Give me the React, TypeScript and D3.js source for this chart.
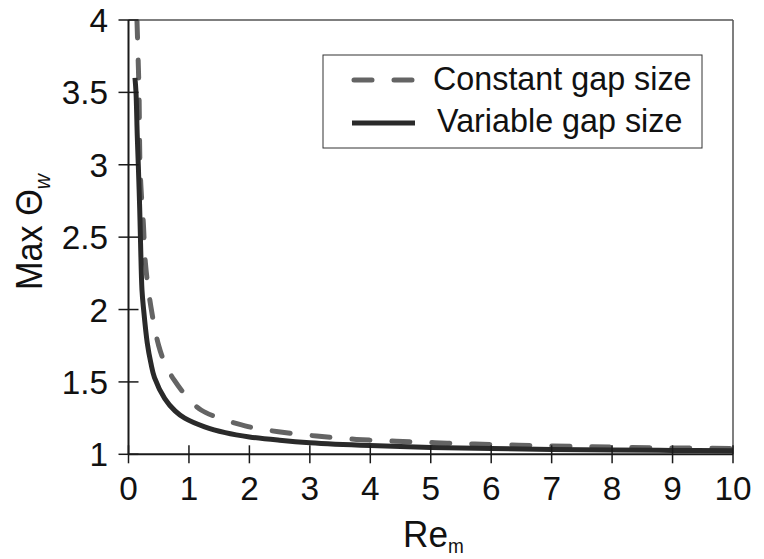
import React from "react";
import * as d3 from "d3";

const xTicks = [0, 1, 2, 3, 4, 5, 6, 7, 8, 9, 10];
const yTicks = [1, 1.5, 2, 2.5, 3, 3.5, 4];
const yTickLabels = ["1", "1.5", "2", "2.5", "3", "3.5", "4"];

const seriesNames = ["Constant gap size", "Variable gap size"];

const constX = [0.14, 0.158, 0.174, 0.19, 0.215, 0.245, 0.28, 0.37, 0.5, 0.62, 0.76, 0.9, 1.05, 1.2, 1.5, 1.81, 2.1, 2.48, 3.11, 3.77, 4.43, 5.07, 5.73, 7, 8, 9, 10];
const constY = [4.0, 3.75, 3.5, 3.0, 2.78, 2.6, 2.32, 2.02, 1.75, 1.61, 1.51, 1.43, 1.36, 1.306, 1.25, 1.21, 1.18, 1.156, 1.126, 1.103, 1.09, 1.08, 1.071, 1.058, 1.05, 1.044, 1.04];

const varX = [0.107, 0.124, 0.145, 0.162, 0.185, 0.2, 0.223, 0.25, 0.31, 0.37, 0.43, 0.6, 0.77, 0.93, 1.26, 1.6, 2, 2.5, 3, 4, 5, 6, 7, 8, 9, 10];
const varY = [3.6, 3.5, 3.2, 3.0, 2.7, 2.45, 2.135, 2.0, 1.77, 1.63, 1.53, 1.385, 1.3, 1.25, 1.19, 1.15, 1.12, 1.097, 1.08, 1.06, 1.047, 1.04, 1.034, 1.03, 1.027, 1.024];

const W = 764;
const H = 559;
const left = 128.5;
const right = 733;
const top = 20;
const bottom = 454.3;

const FONT = "Liberation Sans, Arial, Helvetica, sans-serif";

function T({ x, y, size, anchor = "start", children, rotate = 0, sx = 0.95 }: any) {
  return (
    <text
      transform={`translate(${x},${y}) rotate(${rotate}) scale(${sx},1)`}
      fontSize={size}
      fontFamily={FONT}
      textAnchor={anchor}
      fill="#111"
    >
      {children}
    </text>
  );
}

export default function App() {
  const x = d3.scaleLinear().domain([0, 10]).range([left, right]);
  const y = d3.scaleLinear().domain([1, 4]).range([bottom, top]);

  const line = d3
    .line<[number, number]>()
    .x((d) => x(d[0]))
    .y((d) => y(d[1]))
    .curve(d3.curveCatmullRom.alpha(0.5));

  const constPts = constX.map((v, i) => [v, constY[i]] as [number, number]);
  const varPts = varX.map((v, i) => [v, varY[i]] as [number, number]);

  return (
    <svg
      width={W}
      height={H}
      style={{ position: "absolute", left: 0, top: 0, background: "#fff" }}
    >
      <defs>
        <clipPath id="plot">
          <rect x={left} y={top} width={right - left} height={bottom - top} />
        </clipPath>
      </defs>
      {/* frame */}
      <line x1={left} x2={right} y1={top} y2={top} stroke="#555" strokeWidth={1.5} />
      <line x1={right} x2={right} y1={top} y2={bottom} stroke="#555" strokeWidth={1.5} />

      {/* curves */}
      <g clipPath="url(#plot)">
        <path
          d={line(constPts) || ""}
          fill="none"
          stroke="#646464"
          strokeWidth={5}
          strokeDasharray="18 22"
          strokeLinecap="round"
        />
        <path d={line(varPts) || ""} fill="none" stroke="#2a2a2a" strokeWidth={5} />
      </g>

      {/* axes */}
      <line x1={left} x2={left} y1={top} y2={bottom} stroke="#1a1a1a" strokeWidth={2} />
      <line x1={left} x2={right} y1={bottom} y2={bottom} stroke="#1a1a1a" strokeWidth={2} />
      {xTicks.map((t) => (
        <g key={"xt" + t}>
          <line x1={x(t)} x2={x(t)} y1={bottom - 9} y2={bottom + 9} stroke="#1a1a1a" strokeWidth={1.5} />
          <T x={x(t)} y={500} size={34} anchor="middle" sx={0.98}>
            {String(t)}
          </T>
        </g>
      ))}
      {yTicks.map((t, i) => (
        <g key={"yt" + t}>
          <line x1={left - 10} x2={left + 10} y1={y(t)} y2={y(t)} stroke="#1a1a1a" strokeWidth={1.5} />
          <T x={108} y={y(t) + 12} size={34} anchor="end" sx={0.98}>
            {yTickLabels[i]}
          </T>
        </g>
      ))}

      {/* axis titles */}
      <T x={403} y={547} size={37}>
        Re<tspan fontSize={20} dy={6}>m</tspan>
      </T>
      <T x={42} y={232} size={36} anchor="middle" rotate={-90}>
        Max Θ<tspan fontSize={22} dy={8} fontStyle="italic">w</tspan>
      </T>

      {/* legend */}
      <rect x={323} y={55} width={379} height={93} fill="#fff" stroke="#333" strokeWidth={1} />
      <line x1={354} x2={413} y1={80} y2={80} stroke="#646464" strokeWidth={5} strokeDasharray="18 22" strokeLinecap="round" />
      <line x1={352} x2={415} y1={123} y2={123} stroke="#2a2a2a" strokeWidth={5} />
      <T x={433} y={90} size={34} sx={0.95}>
        {seriesNames[0]}
      </T>
      <T x={437} y={132} size={34} sx={0.95}>
        {seriesNames[1]}
      </T>
    </svg>
  );
}
